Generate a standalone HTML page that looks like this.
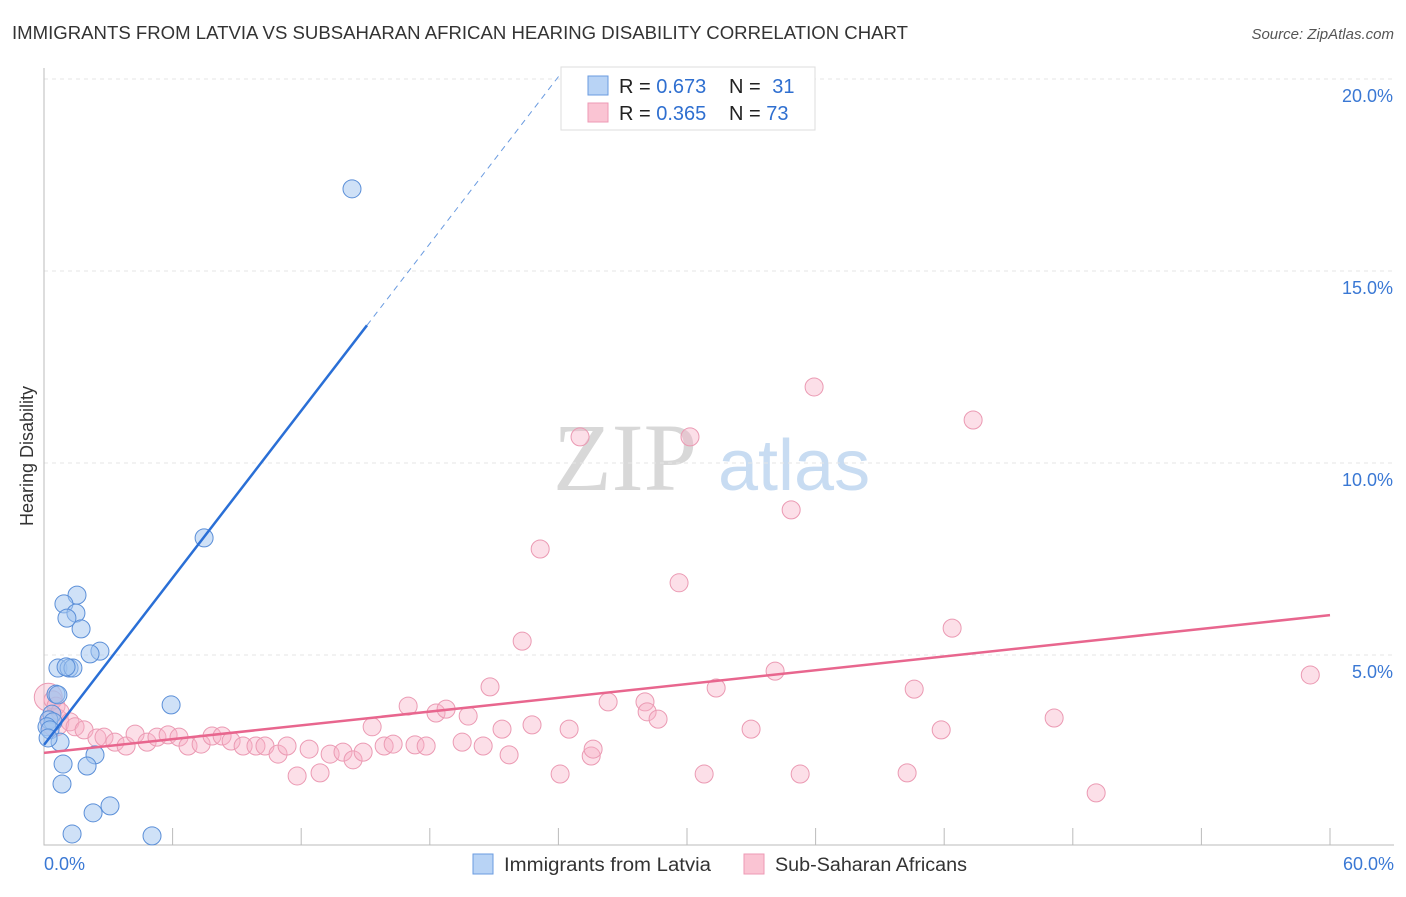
<!DOCTYPE html>
<html><head><meta charset="utf-8"><style>
body{margin:0;background:#fff;font-family:"Liberation Sans",sans-serif;}
svg text{font-family:"Liberation Sans",sans-serif;}
</style></head><body>
<svg id="chart" width="1406" height="892">
<text x="12" y="39" font-size="18" fill="#333" textLength="896" lengthAdjust="spacingAndGlyphs">IMMIGRANTS FROM LATVIA VS SUBSAHARAN AFRICAN HEARING DISABILITY CORRELATION CHART</text>
<text x="1394" y="39" font-size="15" fill="#555" font-style="italic" text-anchor="end">Source: ZipAtlas.com</text>
<text x="33" y="456" font-size="18" fill="#333" text-anchor="middle" transform="rotate(-90 33 456)">Hearing Disability</text>
<g>
<text x="553" y="490" font-size="96" fill="#d8d8d8" font-family="Liberation Serif" style="font-family:'Liberation Serif',serif">ZIP</text>
<text x="718" y="490" font-size="72" fill="#c8dcf2">atlas</text>
</g>
<g id="grid"></g>
<g id="axes"></g>
<g id="marks"></g>
<g>
<rect x="561" y="67" width="254" height="63" fill="#fff" stroke="#ddd"/>
<rect x="588" y="76" width="20" height="19" fill="#b8d3f5" stroke="#6a9be0"/>
<rect x="588" y="103" width="20" height="19" fill="#fac4d3" stroke="#ee9ab5"/>
<text x="619" y="93" font-size="20" fill="#222">R = <tspan fill="#2f6fd0">0.673</tspan></text>
<text x="729" y="93" font-size="20" fill="#222">N = <tspan fill="#2f6fd0" dx="6">31</tspan></text>
<text x="619" y="120" font-size="20" fill="#222">R = <tspan fill="#2f6fd0">0.365</tspan></text>
<text x="729" y="120" font-size="20" fill="#222">N = <tspan fill="#2f6fd0">73</tspan></text>
</g>
<g>
<rect x="473" y="854" width="20" height="20" fill="#b8d3f5" stroke="#6a9be0"/>
<text x="504" y="871" font-size="19" fill="#333" textLength="207" lengthAdjust="spacingAndGlyphs">Immigrants from Latvia</text>
<rect x="744" y="854" width="20" height="20" fill="#fac4d3" stroke="#ee9ab5"/>
<text x="775" y="871" font-size="19" fill="#333" textLength="192" lengthAdjust="spacingAndGlyphs">Sub-Saharan Africans</text>
</g>
</svg>
<script>
const yTicks=[5,10,15,20];
const yTickLabels=["5.0%","10.0%","15.0%","20.0%"];
const xTicks=[0,6,12,18,24,30,36,42,48,54,60];
const blueX=[14.37,7.47,1.54,0.93,1.49,1.07,1.73,2.61,2.15,0.65,1.17,1.35,1.03,5.93,0.56,0.65,0.37,0.23,0.42,0.14,0.28,0.75,0.19,2.38,0.89,2.01,0.84,3.08,2.29,1.31,5.04];
const blueY=[17.14,8.05,6.56,6.33,6.09,5.96,5.68,5.10,5.03,4.66,4.66,4.66,4.69,3.70,3.98,3.96,3.46,3.31,3.26,3.13,3.05,2.73,2.84,2.40,2.16,2.11,1.64,1.07,0.89,0.34,0.29];
const pinkX=[0.42,0.56,0.75,1.21,1.45,1.87,2.47,2.80,3.31,3.83,4.25,4.81,5.27,5.79,6.30,6.72,7.33,7.84,8.31,8.73,9.29,9.89,10.31,10.92,11.34,11.81,12.37,12.88,13.35,13.95,14.42,14.89,15.31,15.87,16.29,16.99,17.31,17.83,18.29,18.76,19.51,19.79,20.49,20.81,21.37,21.70,22.31,22.77,23.15,24.08,24.50,25.01,25.53,25.62,26.32,28.04,28.14,28.65,29.63,30.14,30.80,31.36,32.99,34.11,34.86,35.28,35.93,40.27,40.60,41.86,42.37,43.35,47.13,49.09,59.08];
const pinkY=[3.83,3.67,3.52,3.26,3.13,3.05,2.84,2.86,2.73,2.63,2.94,2.73,2.86,2.92,2.86,2.63,2.68,2.89,2.89,2.76,2.63,2.63,2.63,2.42,2.63,1.85,2.55,1.93,2.42,2.47,2.27,2.47,3.13,2.63,2.68,3.67,2.66,2.63,3.49,3.59,2.73,3.41,2.63,4.17,3.07,2.40,5.36,3.18,7.76,1.90,3.07,10.68,2.37,2.55,3.78,3.78,3.52,3.33,6.88,10.68,1.90,4.14,3.07,4.58,8.78,1.90,11.98,1.93,4.11,3.05,5.70,11.12,3.36,1.41,4.48];
const pinkBigX=[0.2,0.5];
const pinkBigY=[3.9,3.25];
const blueFit=[2.66,0.725];
const pinkFit=[2.45,0.0598];
const NS='http://www.w3.org/2000/svg';
const X=v=>44+v/60*1286;
const Y=v=>847-v*38.4;
function mk(tag,attrs,parent){const e=document.createElementNS(NS,tag);for(const k in attrs)e.setAttribute(k,attrs[k]);document.getElementById(parent).appendChild(e);return e;}
yTicks.forEach((t,i)=>{
 const g=mk('line',{x1:44,x2:1394,y1:Y(t),y2:Y(t),stroke:'#e6e6e6','stroke-dasharray':'4,4'},'grid');
 
 
 const l=mk('text',{x:1393,y:Y(t)+23,'font-size':18,fill:'#3a78d4','text-anchor':'end'},'axes');
 l.textContent=yTickLabels[i];
 
 
});
const ax=mk('path',{d:'M44 68 V845 H1394',stroke:'#bbb',fill:'none'},'axes');


xTicks.forEach(t=>{
 const tk=mk('line',{x1:X(t),x2:X(t),y1:828,y2:845,stroke:'#bbb'},'axes');
 
 
});
const x0=mk('text',{x:44,y:870,'font-size':18,fill:'#3a78d4'},'axes');x0.textContent='0.0%';


const x1=mk('text',{x:1394,y:870,'font-size':18,fill:'#3a78d4','text-anchor':'end'},'axes');x1.textContent='60.0%';


pinkBigX.forEach((v,i)=>{
 const c=mk('circle',{cx:X(v),cy:Y(pinkBigY[i]),r:14,fill:'rgba(248,176,198,0.4)',stroke:'#eb9ab3','stroke-width':1},'marks');
 
 
});
pinkX.forEach((v,i)=>{
 const c=mk('circle',{cx:X(v),cy:Y(pinkY[i]),r:9,fill:'rgba(248,176,198,0.4)',stroke:'#eb9ab3','stroke-width':1},'marks');
 
 
});
blueX.forEach((v,i)=>{
 const c=mk('circle',{cx:X(v),cy:Y(blueY[i]),r:9,fill:'rgba(160,196,240,0.5)',stroke:'#5b8fd8','stroke-width':1},'marks');
 
 
});
const bEnd=15.07, bDash=(20.1-blueFit[0])/blueFit[1];
const bl=mk('line',{x1:X(0),y1:Y(blueFit[0]),x2:X(bEnd),y2:Y(blueFit[0]+blueFit[1]*bEnd),stroke:'#2a6fd6','stroke-width':2.5},'marks');


const bd=mk('line',{x1:X(bEnd),y1:Y(blueFit[0]+blueFit[1]*bEnd),x2:X(bDash),y2:Y(blueFit[0]+blueFit[1]*bDash),stroke:'#6a9be0','stroke-width':1,'stroke-dasharray':'6,5'},'marks');


const pl=mk('line',{x1:X(0),y1:Y(pinkFit[0]),x2:X(60),y2:Y(pinkFit[0]+pinkFit[1]*60),stroke:'#e8668e','stroke-width':2.5},'marks');


</script>
</body></html>
